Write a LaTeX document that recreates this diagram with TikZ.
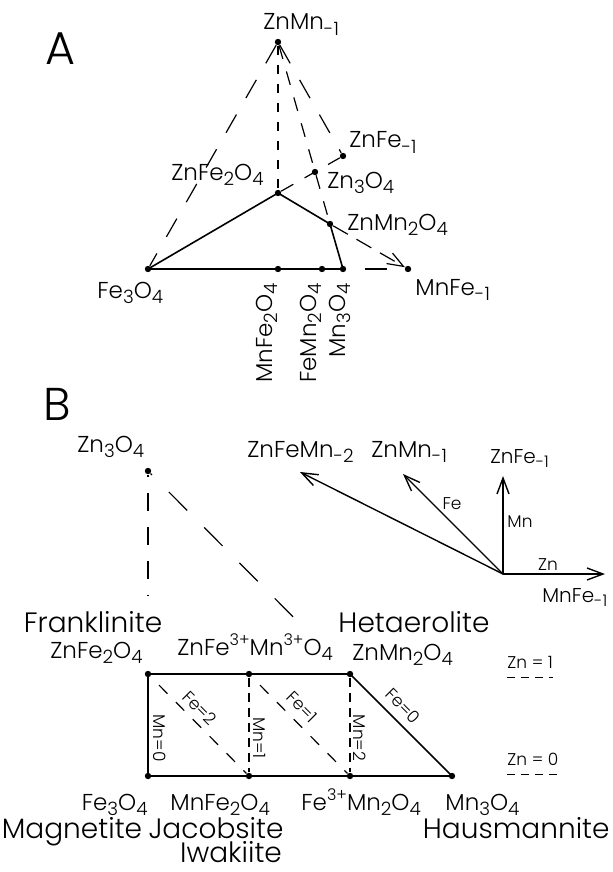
\documentclass[tikz,border=0pt]{standalone}
\usepackage{fontspec}
\setmainfont{Poppins}[UprightFont=* Light]
\usetikzlibrary{arrows.meta}
\newcommand{\dnidx}[1]{\raisebox{-0.45ex}{\scalebox{0.8}{#1}}}
\newcommand{\upidx}[1]{\raisebox{0.75ex}{\scalebox{0.7}{#1}}}

\begin{document}
\begin{tikzpicture}[x=0.5pt,y=-0.5pt,>={Straight Barb[length=8pt,width=6pt]},
    dot/.style={circle,fill=black,inner sep=0pt,minimum size=3.2pt},
    frm/.style={font=\fontsize{11.5}{13}\selectfont,inner sep=0pt},
    sml/.style={font=\fontsize{10}{12}\selectfont,inner sep=0pt},
    tiny/.style={font=\fontsize{8.5}{10}\selectfont,inner sep=0pt},
    big/.style={font=\fontsize{14}{17}\selectfont,inner sep=0pt},
    panel/.style={font=\fontsize{23}{26}\selectfont,inner sep=0pt},
    bound/.style={line width=0.8pt},
    dsh/.style={line width=0.6pt,dash pattern=on 4.5pt off 5pt},
    mdsh/.style={line width=0.6pt,dash pattern=on 7pt off 6.5pt},
    ldsh/.style={line width=0.6pt,dash pattern=on 10.5pt off 9.5pt},
    sqdsh/.style={line width=0.6pt,dash pattern=on 6pt off 6pt,dash phase=6pt},
    vec/.style={line width=0.7pt,->}]
  \path[fill=white] (0,0) rectangle (613,872);

  % panel A
  \node[panel,anchor=base west] (capA) at (45,65) {A};
  \node[dot] (zmnA) at (278,42) {};
  \node[dot] (zfe1A) at (343,156) {};
  \node[dot] (zn3A) at (315,172) {};
  \node[dot] (zfe2A) at (278,193) {};
  \node[dot] (zmn2A) at (330,224) {};
  \node[dot] (fe3A) at (148,269) {};
  \node[dot] (mnfe2A) at (278,269) {};
  \node[dot] (femn2A) at (322,269) {};
  \node[dot] (mn3A) at (343,269) {};
  \node[dot] (mnfe1A) at (408,269) {};

  \draw[bound] (fe3A.center) -- (zfe2A.center) -- (zmn2A.center) -- (mn3A.center) -- cycle;
  \draw[ldsh] (zmnA) -- (fe3A);
  \draw[dsh] (zmnA) -- (zfe2A);
  \draw[mdsh] (zmnA) -- (zmn2A);
  \draw[ldsh] (zmnA) -- (zfe1A);
  \draw[mdsh] (zfe2A) -- (zfe1A);
  \draw[ldsh,dash pattern=on 8.5pt off 5pt,->] (zmn2A) -- (mnfe1A);
  \draw[ldsh,dash pattern=on 11pt off 9pt,dash phase=11pt] (mn3A) -- (mnfe1A);

  \node[frm,anchor=base west] (lzmnA) at (263,30) {ZnMn\dnidx{-1}};
  \node[frm,anchor=base west] (lzfe1A) at (349,148) {ZnFe\dnidx{-1}};
  \node[frm,anchor=base west] (lzfe2A) at (171,180) {ZnFe\dnidx{2}O\dnidx{4}};
  \node[frm,anchor=base west] (lzn3A) at (327,188) {Zn\dnidx{3}O\dnidx{4}};
  \node[frm,anchor=base west] (lzmn2A) at (347,230) {ZnMn\dnidx{2}O\dnidx{4}};
  \node[frm,anchor=base west] (lfe3A) at (97,298) {Fe\dnidx{3}O\dnidx{4}};
  \node[frm,anchor=base west] (lmnfe1A) at (415,295) {MnFe\dnidx{-1}};
  \foreach \x/\n/\t in {267/a/{MnFe\dnidx{2}O\dnidx{4}},311/b/{FeMn\dnidx{2}O\dnidx{4}},340/c/{Mn\dnidx{3}O\dnidx{4}}}
    \node[frm,rotate=90,anchor=east] (rot\n) at (\x,283) {\t};

  % panel B
  \node[panel,anchor=base west] (capB) at (43,420) {B};
  \node[dot] (zn3B) at (148,471) {};
  \node[dot] (zfe2B) at (148,674) {};
  \node[dot] (fmB) at (249,674) {};
  \node[dot] (zmn2B) at (350,674) {};
  \node[dot] (fe3B) at (148,776) {};
  \node[dot] (mnfe2B) at (249,776) {};
  \node[dot] (femn2B) at (350,776) {};
  \node[dot] (mn3B) at (452,776) {};

  \draw[line width=0.6pt,dash pattern=on 9pt off 8pt,dash phase=-9pt,shorten >=37pt] (zn3B) -- (zfe2B);
  \draw[line width=0.6pt,dash pattern=on 13pt off 12pt,dash phase=-13pt,shorten >=30pt] (zn3B) -- (zmn2B);

  \draw[bound] (zfe2B.center) -- (zmn2B.center) -- (mn3B.center) -- (fe3B.center) -- cycle;
  \foreach \a/\b in {fmB/mnfe2B,zmn2B/femn2B}
    \draw[line width=0.6pt,dash pattern=on 4.5pt off 3pt] (\a) -- (\b);
  \foreach \a/\b in {zfe2B/mnfe2B,fmB/femn2B}
    \draw[sqdsh] (\a) -- (\b);
  \foreach \x/\t in {160/0,260/1,360/2}
    \node[tiny,rotate=-90] (mn\t) at (\x,738) {Mn=\t};
  \foreach \x/\y/\t in {200/708/2,302/707/1,403/706/0}
    \node[tiny,rotate=-45] (fe\t) at (\x,\y) {Fe=\t};

  % vectors
  \coordinate (org) at (503,574);
  \coordinate (tzfm) at (300,472);
  \coordinate (tzm) at (403,474);
  \coordinate (tzf) at (503,476);
  \coordinate (tmf) at (605,574);
  \foreach \t in {tzfm,tzm,tzf,tmf}
    \draw[vec] (org) -- (\t);
  \node[tiny] (lfe) at (452,504) {Fe};
  \node[tiny] (lmn) at (520,522) {Mn};
  \node[tiny] (lzn) at (548,565) {Zn};

  \node[frm,anchor=base west] (lzn3B) at (77,452) {Zn\dnidx{3}O\dnidx{4}};
  \node[frm,anchor=base west] (lzfmB) at (247,457) {ZnFeMn\dnidx{-2}};
  \node[frm,anchor=base west] (lzmB) at (371,457) {ZnMn\dnidx{-1}};
  \node[sml,anchor=base west] (lzfB) at (490,463) {ZnFe\dnidx{-1}};
  \node[sml,anchor=base west] (lmfB) at (542,602) {MnFe\dnidx{-1}};

  \node[big,anchor=base] (frank) at (93,632) {Franklinite};
  \node[big,anchor=base] (hetae) at (414,632) {Hetaerolite};
  \node[frm,anchor=base east] (lzfe2B) at (143,658) {ZnFe\dnidx{2}O\dnidx{4}};
  \node[frm,anchor=base west] (lfmB) at (177,655) {ZnFe\upidx{3+}Mn\upidx{3+}O\dnidx{4}};
  \node[frm,anchor=base west] (lzmn2B) at (352,660) {ZnMn\dnidx{2}O\dnidx{4}};
  \node[frm,anchor=base east] (lfe3B) at (148,810) {Fe\dnidx{3}O\dnidx{4}};
  \node[frm,anchor=base west] (lmnfe2B) at (170,810) {MnFe\dnidx{2}O\dnidx{4}};
  \node[frm,anchor=base west] (lfemn2B) at (301,810) {Fe\upidx{3+}Mn\dnidx{2}O\dnidx{4}};
  \node[frm,anchor=base west] (lmn3B) at (445,810) {Mn\dnidx{3}O\dnidx{4}};
  \node[big,anchor=base] (magn) at (72,838) {Magnetite};
  \node[big,anchor=base] (jacob) at (216,838) {Jacobsite};
  \node[big,anchor=base] (iwak) at (231,862) {Iwakiite};
  \node[big,anchor=base east] (hausm) at (610,838) {Hausmannite};

  % Zn levels
  \foreach \y/\t in {668/1,765/0} {
    \node[tiny,anchor=base west] (lzn\t) at (507,\y) {Zn = \t};
    \draw[line width=0.5pt,dash pattern=on 4pt off 3pt] ([yshift=-4.5pt]lzn\t.base west) -- ([yshift=-4.5pt]lzn\t.base east);
  }
\end{tikzpicture}
\end{document}
